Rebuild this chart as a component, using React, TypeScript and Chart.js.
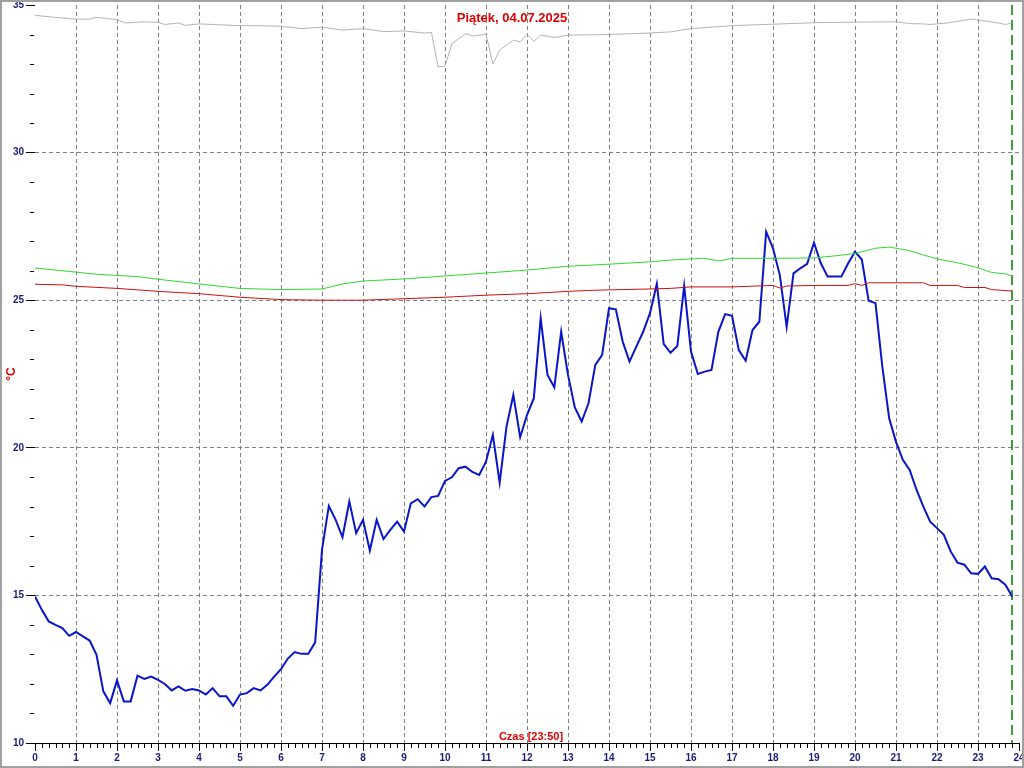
import { useEffect, useRef } from "react";
import { Chart, registerables } from "chart.js";

Chart.register(...registerables);

// ---------- text ----------
const TITLE = "Piątek, 04.07.2025";
const X_TITLE = "Czas [23:50]";
const Y_TITLE = "°C";

// ---------- axes ----------
const X_TICKS = [0, 1, 2, 3, 4, 5, 6, 7, 8, 9, 10, 11, 12, 13, 14, 15, 16, 17, 18, 19, 20, 21, 22, 23, 24];
const Y_TICKS = [10, 15, 20, 25, 30, 35];
const X_MINOR_PER_HOUR = 6;
const Y_MINOR_STEP = 1;
const NOW_HOUR = 23 + 50 / 60;

// ---------- series ----------
// blue: one reading every 10 minutes from 0:00 to 23:50
const BLUE_STEP_MIN = 10;
const blueValues = [
  14.96, 14.51, 14.12, 14.0, 13.89, 13.63, 13.76, 13.61, 13.47, 12.99,
  11.75, 11.35, 12.12, 11.41, 11.41, 12.28, 12.17, 12.25, 12.14, 12.0,
  11.78, 11.92, 11.77, 11.83, 11.78, 11.64, 11.86, 11.58, 11.58, 11.26,
  11.64, 11.69, 11.86, 11.78, 11.97, 12.25, 12.5, 12.86, 13.08, 13.02,
  13.02, 13.41, 16.54, 18.03, 17.56, 16.97, 18.18, 17.11, 17.56, 16.52,
  17.56, 16.91, 17.22, 17.5, 17.16, 18.12, 18.26, 18.01, 18.33, 18.37,
  18.88, 19.0, 19.31, 19.36, 19.18, 19.08, 19.53, 20.44, 18.82, 20.72,
  21.79, 20.36, 21.11, 21.68, 24.39, 22.47, 22.05, 23.93, 22.47, 21.37,
  20.89, 21.51, 22.81, 23.15, 24.73, 24.69, 23.6, 22.92, 23.43, 23.93,
  24.56, 25.55, 23.52, 23.22, 23.45, 25.48, 23.26, 22.5, 22.58, 22.64,
  23.93, 24.53, 24.47, 23.31, 22.95, 23.99, 24.27, 27.32, 26.76, 25.85,
  24.1, 25.91, 26.08, 26.23, 26.95, 26.25, 25.8, 25.8, 25.8, 26.25,
  26.64, 26.38, 24.98, 24.9, 22.75, 21.0, 20.2, 19.59, 19.25, 18.58,
  18.01, 17.5, 17.28, 17.05, 16.49, 16.11, 16.04, 15.75, 15.73, 15.98,
  15.58, 15.55, 15.36, 14.96,
];

const grayHours = [
  0, 0.5, 1.0, 1.33, 1.5, 2.0, 2.2, 2.67, 3.0, 3.17, 3.5, 3.67, 4.0, 4.5, 5.0, 5.5, 6.0, 6.5,
  7.0, 7.5, 8.0, 8.5, 9.0, 9.5, 9.67, 9.83, 10.0, 10.17, 10.5, 10.67, 11.0, 11.17, 11.33,
  11.67, 11.83, 12.0, 12.17, 12.33, 12.67, 13.0, 14.0, 15.0, 15.5, 16.0, 17.0, 18.0, 19.0,
  20.0, 21.0, 21.33, 21.67, 21.83, 22.25, 22.83, 23.17, 23.5, 23.67, 23.83,
];
const grayValues = [
  34.65, 34.58, 34.52, 34.52, 34.58, 34.5, 34.39, 34.43, 34.41, 34.34, 34.39, 34.31, 34.36,
  34.33, 34.3, 34.3, 34.28, 34.2, 34.25, 34.15, 34.2, 34.1, 34.12, 34.05, 34.07, 32.9, 32.93,
  33.69, 34.03, 33.95, 34.01, 33.0, 33.47, 33.81, 33.75, 34.0, 33.77, 33.98, 33.9, 33.98,
  34.0, 34.05, 34.09, 34.2, 34.3, 34.35, 34.4, 34.42, 34.43, 34.37, 34.36, 34.34, 34.39,
  34.52, 34.46, 34.39, 34.34, 34.39,
];

const greenHours = [
  0, 1.0, 1.5, 2.5, 3.0, 4.0, 5.0, 6.0, 7.0, 7.5, 8.0, 9.0, 10.0, 11.0, 12.0, 13.0, 14.0,
  15.0, 15.5, 16.3, 16.7, 17.0, 18.0, 19.0, 19.5, 20.0, 20.5, 20.83, 21.3, 21.67, 22.0,
  22.5, 23.0, 23.33, 23.67, 23.83,
];
const greenValues = [
  26.09, 25.95, 25.88, 25.8, 25.71, 25.55, 25.4, 25.36, 25.38, 25.55, 25.65, 25.72, 25.82,
  25.92, 26.02, 26.15, 26.22, 26.3, 26.36, 26.42, 26.33, 26.42, 26.42, 26.43, 26.5, 26.58,
  26.76, 26.8, 26.69, 26.53, 26.4, 26.27, 26.1, 25.94, 25.89, 25.82,
];

const redHours = [
  0, 0.67, 1.0, 2.0, 3.0, 4.0, 5.0, 6.0, 7.0, 8.0, 9.0, 10.0, 11.0, 12.0, 13.0, 13.5, 14.0,
  15.0, 15.5, 16.0, 17.0, 18.0, 18.17, 18.33, 19.0, 19.83, 20.0, 20.17, 20.33, 21.0, 21.67,
  21.83, 22.5, 22.67, 23.17, 23.33, 23.83,
];
const redValues = [
  25.54, 25.52, 25.47, 25.4, 25.3, 25.22, 25.1, 25.02, 25.0, 25.0, 25.05, 25.1, 25.17, 25.22,
  25.3, 25.33, 25.35, 25.38, 25.4, 25.45, 25.45, 25.5, 25.41, 25.48, 25.5, 25.5, 25.56, 25.5,
  25.59, 25.59, 25.59, 25.5, 25.5, 25.43, 25.43, 25.36, 25.31,
];

// ---------- styles ----------
const FONT = "'Liberation Sans', Arial, sans-serif";
const RED_TEXT = "#e00000";
const TICK_TEXT = "#1a1a78";
const GRID = "#808080";
const NONE = "rgba(0,0,0,0)";

const pairs = (xs: number[], ys: number[]) => ys.map((y, i) => ({ x: xs[i], y }));

const decor = {
  id: "decor",
  beforeDraw(chart: any) {
    const { ctx, width, height } = chart;
    ctx.save();
    ctx.fillStyle = "#ffffff";
    ctx.fillRect(0, 0, width, height);
    ctx.restore();
  },
  beforeDatasetsDraw(chart: any) {
    const { ctx, chartArea, scales } = chart;
    const px = Math.round(scales.x.getPixelForValue(NOW_HOUR));
    ctx.save();
    ctx.strokeStyle = "#008000";
    ctx.lineWidth = 1.5;
    ctx.setLineDash([10, 5]);
    ctx.beginPath();
    ctx.moveTo(px, chartArea.top);
    ctx.lineTo(px, chartArea.bottom);
    ctx.stroke();
    ctx.restore();
  },
  afterDraw(chart: any) {
    const { ctx, chartArea, scales, width, height } = chart;
    const xs = scales.x;
    const ys = scales.y;
    ctx.save();
    ctx.strokeStyle = "#000000";
    ctx.lineWidth = 1;
    ctx.beginPath();
    // minor x ticks
    for (let h = 0; h < 24; h++) {
      for (let m = 1; m < X_MINOR_PER_HOUR; m++) {
        const px = Math.round(xs.getPixelForValue(h + m / X_MINOR_PER_HOUR)) + 0.5;
        ctx.moveTo(px, chartArea.bottom);
        ctx.lineTo(px, chartArea.bottom + 5);
      }
    }
    // minor y ticks
    for (let v = Y_TICKS[0]; v <= Y_TICKS[Y_TICKS.length - 1]; v += Y_MINOR_STEP) {
      if (Y_TICKS.includes(v)) continue;
      const py = Math.round(ys.getPixelForValue(v)) + 0.5;
      ctx.moveTo(chartArea.left - 5, py);
      ctx.lineTo(chartArea.left - 1, py);
    }
    ctx.stroke();

    // titles
    ctx.fillStyle = RED_TEXT;
    ctx.textAlign = "center";
    ctx.textBaseline = "middle";
    ctx.font = `bold 13px ${FONT}`;
    ctx.fillText(TITLE, width / 2, 18);
    ctx.font = `bold 11px ${FONT}`;
    ctx.fillText(X_TITLE, (chartArea.left + chartArea.right) / 2 + 4, chartArea.bottom - 6);

    // frame
    ctx.strokeStyle = "#a0a0a0";
    ctx.lineWidth = 2;
    ctx.strokeRect(1, 1, width - 2, height - 2);
    ctx.restore();
  },
};

export default function App() {
  const ref = useRef<HTMLCanvasElement | null>(null);

  useEffect(() => {
    if (!ref.current) return;
    const blueData = blueValues.map((y, i) => ({ x: (i * BLUE_STEP_MIN) / 60, y }));
    const tickFont = { family: FONT, size: 10, weight: "bold" as const };
    const chart = new Chart(ref.current, {
      type: "line",
      data: {
        datasets: [
          { data: pairs(grayHours, grayValues), borderColor: "#b4b4b4", borderWidth: 1 },
          { data: pairs(greenHours, greenValues), borderColor: "#33d633", borderWidth: 1 },
          { data: pairs(redHours, redValues), borderColor: "#cc1111", borderWidth: 1 },
          { data: blueData, borderColor: "#0a14c8", borderWidth: 2 },
        ],
      },
      options: {
        animation: false,
        responsive: false,
        devicePixelRatio: 1,
        events: [],
        layout: { padding: { left: 0, top: 5, right: 5, bottom: 0 } },
        elements: {
          point: { radius: 0 },
          line: { tension: 0, fill: false },
        },
        plugins: {
          legend: { display: false },
          tooltip: { enabled: false },
          title: { display: false },
        },
        scales: {
          x: {
            type: "linear",
            min: 0,
            max: 24,
            afterBuildTicks: (s: any) => {
              s.ticks = X_TICKS.map((value) => ({ value }));
            },
            afterFit: (s: any) => {
              s.height = 25;
              s.paddingLeft = 0;
              s.paddingRight = 0;
            },
            ticks: {
              color: TICK_TEXT,
              font: tickFont,
              padding: 1,
              maxRotation: 0,
              autoSkip: false,
              callback: (v: any) => String(v),
            },
            grid: {
              color: (c: any) =>
                c.tick && (c.tick.value === 0 || c.tick.value === 24) ? NONE : GRID,
              tickColor: "#000000",
              tickLength: 8,
              lineWidth: 1,
            },
            border: { display: true, color: "#000000", width: 1, dash: [4, 3] },
          },
          y: {
            type: "linear",
            min: 10,
            max: 35,
            afterBuildTicks: (s: any) => {
              s.ticks = Y_TICKS.map((value) => ({ value }));
            },
            afterFit: (s: any) => {
              s.width = 35;
              s.paddingTop = 0;
              s.paddingBottom = 0;
            },
            ticks: {
              color: TICK_TEXT,
              font: tickFont,
              padding: 2,
              callback: (v: any) => String(v),
            },
            grid: {
              color: (c: any) =>
                c.tick && (c.tick.value === 10 || c.tick.value === 35) ? NONE : GRID,
              tickColor: "#000000",
              tickLength: 9,
              lineWidth: 1,
            },
            border: { display: false, dash: [4, 3] },
            title: {
              display: true,
              text: Y_TITLE,
              color: RED_TEXT,
              font: { family: FONT, size: 12, weight: "bold" },
              padding: { top: 4, bottom: 0 },
            },
          },
        },
      },
      plugins: [decor],
    } as any);
    return () => chart.destroy();
  }, []);

  return (
    <div style={{ position: "fixed", left: 0, top: 0, width: 1024, height: 768, background: "#fff" }}>
      <canvas ref={ref} width={1024} height={768} style={{ display: "block" }} />
    </div>
  );
}
